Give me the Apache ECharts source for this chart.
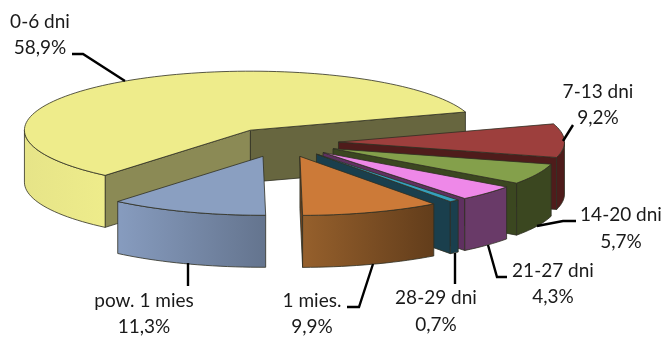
<!DOCTYPE html>
<html><head><meta charset="utf-8">
<style>html,body{margin:0;padding:0;background:#fff}#c{width:665px;height:337px}</style>
<script src="https://cdn.jsdelivr.net/npm/echarts@6/dist/echarts.min.js"></script>
</head><body><div id="c"></div>
<script>
const categories = ['0-6 dni','7-13 dni','14-20 dni','21-27 dni','28-29 dni','1 mies.','pow. 1 mies'];
const values = [58.9,9.2,5.7,4.3,0.7,9.9,11.3];
const topColors = ['#eeec8b','#9d3f3d','#84a04b','#ee88e8','#35a0bc','#cc7a38','#8a9fc1'];
const wallLeft  = ['#e6e488','#4f1c1b','#3b4720','#693a68','#1a3f4d','#96602c','#879cbf'];
const wallRight = ['#eeec8b','#4f1c1b','#3b4720','#693a68','#1a3f4d','#623d1b','#64748e'];
const startFace = ['#8b8a55','#4f1c1b','#3b4720','#5f3060','#1a3f4d','#6b4320','#64748e'];
const endFace   = ['#67663f','#4f1c1b','#3b4720','#5f3060','#1a3f4d','#6b4320','#64748e'];
const labelAt = [[40,22,48],[598,92,118],[621,215,242],[553,271,297],[436,298,325],[312,301,327],[144,301,327]];
const leaders = [
  [[72,54],[83,54],[125,81]],
  [[573,125],[563,141]],
  [[537,226],[563,221],[576,221]],
  [[488,245],[497,277],[507,277]],
  [[455,253],[455,284]],
  [[373,264],[359,307],[347,307]],
  [[188,263],[188,286]]
];
const startAngle = 230, rx = 226, ry = 59, depth = 52, explode = 0.25, cx = 282, cy = 142.4;
const total = values.reduce((a,b)=>a+b,0);
const rad = d => d*Math.PI/180;
const ring = (ox,oy,t,z) => [ox+rx*Math.cos(rad(t)), oy-ry*Math.sin(rad(t))+(z||0)];
function arc(ox,oy,a,b,z){ const n=Math.max(2,Math.ceil(Math.abs(a-b)/2)), p=[];
  for(let i=0;i<=n;i++) p.push(ring(ox,oy,a+(b-a)*i/n,z)); return p; }
const EDGE = {stroke:'#2e2e22',lineWidth:0.8};
function renderItem(params, api){
  const i = params.dataIndex;
  let before = 0; for(let k=0;k<i;k++) before += values[k];
  const a = startAngle - before/total*360, b = a - api.value(1)/total*360, m=(a+b)/2;
  const ox = cx + explode*rx*Math.cos(rad(m)), oy = cy - explode*ry*Math.sin(rad(m));
  const kids = [];
  const poly = (pts,fill)=>kids.push({type:'polygon',shape:{points:pts},style:Object.assign({fill},EDGE)});
  const face = (t,fill)=>{const e=ring(ox,oy,t);poly([[ox,oy],e,[e[0],e[1]+depth],[ox,oy+depth]],fill);};
  if(Math.cos(rad(a))<0) face(a,startFace[i]);
  if(Math.cos(rad(b))>0) face(b,endFace[i]);
  [[-180,0],[180,360]].forEach(r=>{
    const lo=Math.max(b,r[0]),hi=Math.min(a,r[1]);
    if(hi-lo>0.01){
      const t=arc(ox,oy,hi,lo,0), u=arc(ox,oy,lo,hi,depth);
      poly(t.concat(u), new echarts.graphic.LinearGradient(0,0,1,0,[{offset:0,color:wallLeft[i]},{offset:1,color:wallRight[i]}]));
    }
  });
  poly([[ox,oy]].concat(arc(ox,oy,a,b,0)),topColors[i]);
  return {type:'group',children:kids};
}
const fmt = v => v.toFixed(1).replace('.',',')+'%';
const graphic = [];
leaders.forEach(pts=>graphic.push({type:'polyline',z:20,shape:{points:pts},style:{stroke:'#000',lineWidth:2.4,fill:null}}));
categories.forEach((c,i)=>{
  [c,fmt(values[i])].forEach((t,j)=>graphic.push({type:'text',z:21,x:labelAt[i][0],y:labelAt[i][j+1],
    style:{text:t,fill:'#1a1a1a',font:'19px Lato',align:'center',verticalAlign:'middle'}}));
});
const chart = echarts.init(document.getElementById('c'),null,{renderer:'canvas'});
chart.setOption({
  animation:false,
  graphic,
  series:[{type:'custom',coordinateSystem:'none',silent:true,renderItem,
    data:values.map((v,i)=>({name:categories[i],value:[i,v]}))}]
});
</script></body></html>
